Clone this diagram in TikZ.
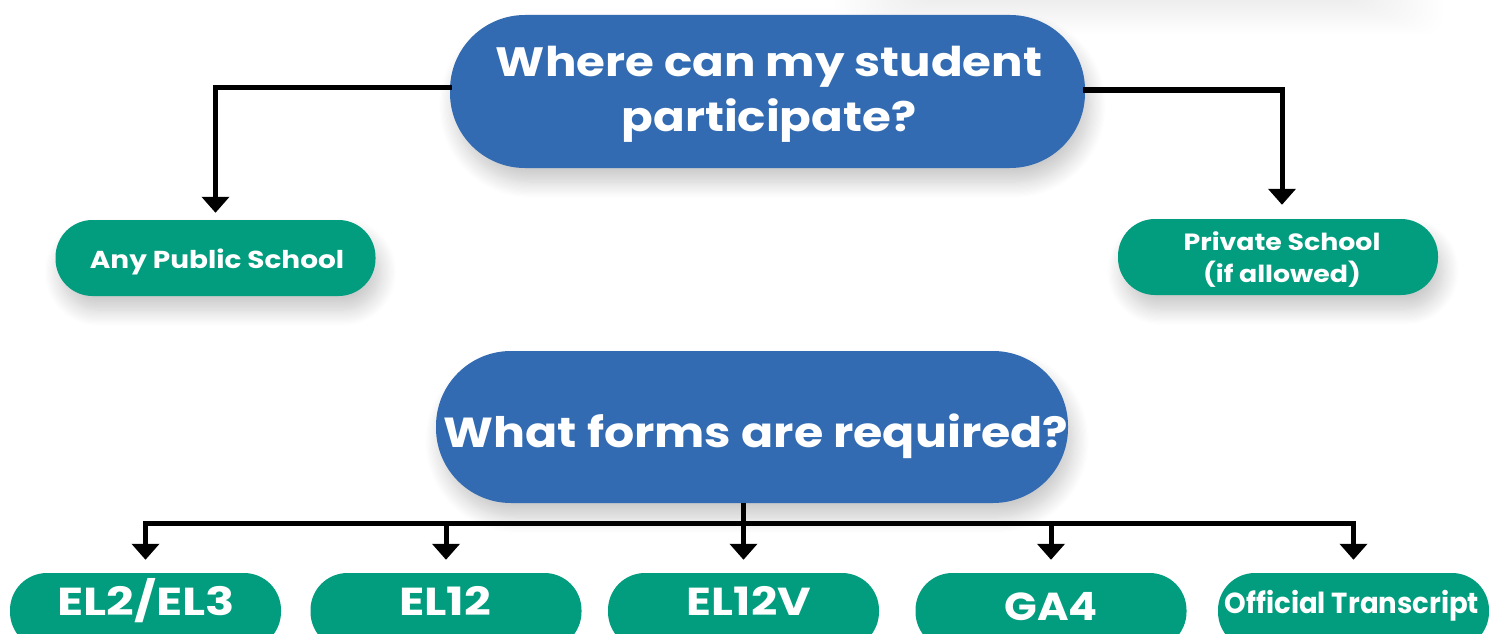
\documentclass[tikz,border=0pt]{standalone}
\usepackage{fontspec}
\setmainfont{Poppins}
\usetikzlibrary{shadows.blur,arrows.meta,calc}
\definecolor{qblue}{RGB}{50,107,177}
\definecolor{qgreen}{RGB}{2,157,126}
\newcommand{\wide}[2]{\scalebox{#1}[1]{#2}}
\begin{document}
\begin{tikzpicture}[x=1pt,y=-1pt,
  softshadow/.style={blur shadow={shadow xshift=5pt,shadow yshift=-14pt,shadow blur radius=16pt,shadow opacity=22,shadow blur steps=14}},
  bluepill/.style={fill=qblue,draw=none,rounded corners=75pt,inner sep=0pt,softshadow},
  greenpill/.style={fill=qgreen,draw=none,rounded corners=37pt,inner sep=0pt,softshadow,minimum width=320pt,minimum height=76pt},
  formpill/.style={fill=qgreen,draw=none,rounded corners=37pt,inner sep=0pt,minimum width=271pt,minimum height=76pt},
  lbl/.style={text=white,font=\bfseries,inner sep=0pt,anchor=base},
  conn/.style={draw=black,line width=5pt,-{Triangle[width=27pt,length=16pt]}},
  busline/.style={draw=black,line width=5pt,line cap=rect},
]
\useasboundingbox (0,0) rectangle (1489,634);
% faint shadow of an element above the view
\foreach \i in {1,...,20}{
  \fill[black,opacity=0.0045,rounded corners=20pt] (830+5*\i,-60) rectangle (1448-5*\i,36-2*\i);
}

\node[bluepill,minimum width=635pt,minimum height=153pt] (q1) at (767.5,91.5) {};
\node[lbl,font=\bfseries\fontsize{41}{41}\selectfont] (q1a) at (769,77) {\wide{1.14}{Where can my student}};
\node[lbl,font=\bfseries\fontsize{41}{41}\selectfont] (q1b) at (769,131) {\wide{1.14}{participate?}};

\node[greenpill] (pub) at (215.5,258) {};
\node[lbl,font=\bfseries\fontsize{24.5}{24.5}\selectfont] (pubt) at (217,268) {\wide{1.14}{Any Public School}};
\node[greenpill] (priv) at (1278,257) {};
\node[lbl,font=\bfseries\fontsize{23.5}{23.5}\selectfont] (privt1) at (1282,250) {\wide{1.14}{Private School}};
\node[lbl,font=\bfseries\fontsize{23.5}{23.5}\selectfont] (privt2) at (1282,282) {\wide{1.14}{(if allowed)}};

\draw[conn] ([xshift=2pt,yshift=3.5pt]q1.west) -| ([yshift=7pt]pub.north);
\draw[conn] ([xshift=-2pt,yshift=1.5pt]q1.east) -| ([xshift=4pt,yshift=14pt]priv.north);

\node[bluepill,minimum width=632pt,minimum height=152pt] (q2) at (752,427) {};
\node[lbl,font=\bfseries\fontsize{42}{42}\selectfont] (q2t) at (756,447) {\wide{1.13}{What forms are required?}};

\node[formpill] (f1) at (145.5,611) {};
\node[formpill] (f2) at (446,611) {};
\node[formpill] (f3) at (743.5,611) {};
\node[formpill] (f4) at (1051,611) {};
\node[formpill] (f5) at (1353.5,611) {};
\node[lbl,font=\bfseries\fontsize{39}{39}\selectfont] (f1t) at (146,615) {\wide{1.24}{EL2/EL3}};
\node[lbl,font=\bfseries\fontsize{39}{39}\selectfont] (f2t) at (445,615) {\wide{1.2}{EL12}};
\node[lbl,font=\bfseries\fontsize{39}{39}\selectfont] (f3t) at (749,615) {\wide{1.18}{EL12V}};
\node[lbl,font=\bfseries\fontsize{39}{39}\selectfont] (f4t) at (1051,620) {\wide{1.1}{GA4}};
\node[lbl,font=\bfseries\fontsize{29}{29}\selectfont] (f5t) at (1352,613) {\wide{0.95}{Official Transcript}};

\coordinate (bus) at (0,523);
\draw[busline] (f1.north |- bus) -- (f5.north |- bus);
\draw[conn] (f3.north |- q2.south) -- ([yshift=13pt]f3.north);
\foreach \f in {f1,f2,f4,f5}{
  \draw[conn] (\f.north |- bus) -- ([yshift=13pt]\f.north);
}
\end{tikzpicture}
\end{document}
